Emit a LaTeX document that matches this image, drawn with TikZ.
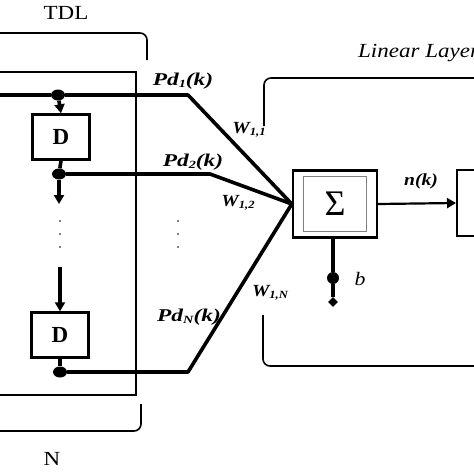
\documentclass[tikz,border=0pt]{standalone}
\usepackage{fontspec}
\setmainfont{Liberation Serif}
\usetikzlibrary{arrows.meta,shapes.geometric}
\newcommand{\hs}[1]{\scalebox{1.15}[1]{#1}}
\newcommand{\hw}[1]{\scalebox{1.3}[1]{#1}}
\newcommand{\bi}[1]{\textbf{\textit{#1}}}
\newcommand{\subx}[1]{\raisebox{-2pt}{\fontsize{11}{12}\selectfont\bi{#1}}}
\begin{document}
\begin{tikzpicture}[x=1pt,y=-1pt,
  thickline/.style={line width=3.6pt},
  boxline/.style={line width=2.4pt},
  brack/.style={line width=1.6pt, rounded corners=7pt},
  delaybox/.style={draw, line width=2.4pt, minimum width=57pt, minimum height=45pt, inner sep=0pt, font=\fontsize{23}{25}\selectfont\bfseries},
  dotn/.style={ellipse, fill=black, inner sep=0pt, minimum width=14pt, minimum height=11pt},
  lbl/.style={inner sep=0pt, font=\fontsize{17}{19}\selectfont\itshape},
  tip/.style={-{Triangle[length=9pt,width=10pt]}}
]
\useasboundingbox (0,0) rectangle (474,474);
% TDL brace
\node[inner sep=0pt, font=\fontsize{20}{22}\selectfont] (tdl) at (66,13) {\hs{TDL}};
\draw[brack] (-10,33) -- (147,33) -- (147,60);
% N brace
\node[inner sep=0pt, font=\fontsize{20}{22}\selectfont] (nlbl) at (52,459) {\hs{N}};
\draw[brack] (-10,431) -- (141,431) -- (141,404);
% big box
\draw[boxline] (-10,72) rectangle (136,395);
% delay boxes
\node[delaybox] (d1) at (61,137) {D};
\node[delaybox] (d2) at (60,335) {D};
% dots
\node[dotn] (p1) at (58,95) {};
\node[dotn] (p2) at (59,174) {};
\node[dotn] (p3) at (60,372) {};
% sigma box
\node[draw, boxline, minimum width=84pt, minimum height=67pt, inner sep=0pt] (sig) at (335,204) {};
\node[draw, line width=1.5pt, draw=gray, minimum width=63pt, minimum height=55pt, inner sep=0pt, font=\fontsize{36}{38}\selectfont] (sigin) at (335,204) {Σ};
\coordinate (conv) at (sig.west);
% right box
\node[draw, boxline, minimum width=60pt, minimum height=66pt, anchor=west, inner sep=0pt] (out) at (456,203) {};
% lines
\coordinate (lin) at (-10,95);
\coordinate (k1) at (188,95);
\coordinate (k2) at (210,174);
\coordinate (k3) at (188,372);
\draw[thickline, line join=round] (lin) -- (p1) -- (k1) -- (conv);
\draw[thickline, line join=round] (p2) -- (k2) -- (conv);
\draw[thickline, line join=round] (p3) -- (k3) -- (conv);
\draw[thickline, tip] (p1) -- (d1.north);
\draw[thickline] (d1.south) -- (p2);
\coordinate (a1) at (59,204);
\draw[thickline, tip] (p2) -- (a1);
\coordinate (a2s) at (60,267);
\draw[thickline, tip] (a2s) -- (d2.north);
\draw[thickline] (d2.south) -- (p3);
% vertical dots
\foreach \yy in {221,234,247}{
  \fill (60,\yy) circle (0.8pt);
  \fill (178,\yy) circle (0.8pt);
}
% output arrow
\draw[line width=2.2pt, tip] (sig.east) -- (out.west);
\node[inner sep=0pt, font=\fontsize{17}{19}\selectfont\bfseries\itshape] (nk) at (421,181) {\hs{n(k)}};
% bias
\node[dotn, minimum width=12pt, minimum height=12pt] (bd) at (333,278) {};
\node[diamond, fill=black, inner sep=0pt, minimum width=10pt, minimum height=10pt] (bt) at (333,302) {};
\draw[thickline] (333,238) -- (bd) -- (bt);
\node[lbl, font=\fontsize{19}{21}\selectfont\itshape] (blbl) at (360,279) {\hs{b}};
% labels
\node[lbl, font=\fontsize{18}{20}\selectfont\itshape] (pd1) at (183,81) {\hw{\bi{Pd}\subx{1}\bi{(k)}}};
\node[lbl, font=\fontsize{18}{20}\selectfont\itshape] (pd2) at (193,162) {\hw{\bi{Pd}\subx{2}\bi{(k)}}};
\node[lbl, font=\fontsize{18}{20}\selectfont\itshape] (pdn) at (189,317) {\hw{\bi{Pd}\subx{N}\bi{(k)}}};
\node[lbl] (w11) at (249,130) {\hs{\bi{W}\subx{1,1}}};
\node[lbl] (w12) at (238,203) {\hs{\bi{W}\subx{1,2}}};
\node[lbl] (w1n) at (270,293) {\hs{\bi{W}\subx{1,N}}};
% linear layer bracket
\node[lbl, anchor=west, font=\fontsize{20}{22}\selectfont\itshape] (ll) at (358,53) {\hs{Linear Layer}};
\draw[brack] (264,126) -- (264,78) -- (480,78);
\draw[brack] (263,315) -- (263,366) -- (480,366);
\end{tikzpicture}
\end{document}
